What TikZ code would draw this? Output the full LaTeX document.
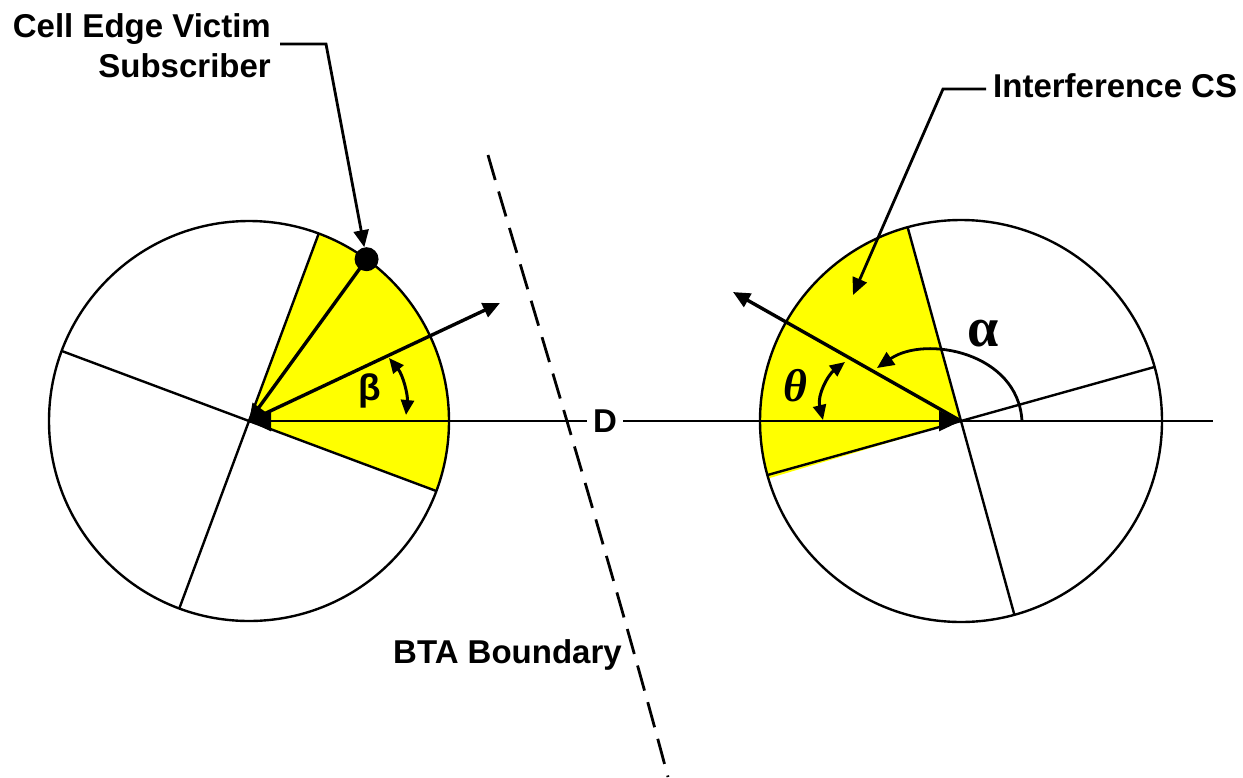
\documentclass[tikz,border=0pt]{standalone}
\usepackage{fontspec}
\setmainfont{Liberation Sans}
\newfontfamily\greekserif{Liberation Serif}
\usetikzlibrary{arrows.meta}
\tikzset{
  cell/.style={line width=2.4pt},
  sectorline/.style={line width=2.4pt},
  sectorfill/.style={fill={rgb,255:red,255;green,255;blue,0}},
  arr/.style={line width=3.4pt, -{Triangle[length=17pt,width=15pt]}},
  darr/.style={line width=3pt, {Triangle[length=15pt,width=13pt]}-{Triangle[length=15pt,width=13pt]}},
  hline/.style={line width=2.8pt},
  dline/.style={line width=2.8pt, {Triangle[length=22pt,width=20pt]}-{Triangle[length=22pt,width=20pt]}},
  leader/.style={line width=2.8pt, -{Triangle[length=17pt,width=15pt]}},
  bta/.style={line width=2.8pt, dash pattern=on 26pt off 12pt},
  lbl/.style={font=\fontsize{33}{40}\selectfont\bfseries, inner sep=0pt},
  subdot/.style={circle, fill=black, minimum size=24pt, inner sep=0pt}
}
\begin{document}
\begin{tikzpicture}[x=1pt,y=-1pt]
\useasboundingbox (0,0) rectangle (1243,777);
% centres
\coordinate (L) at (249,421);
\coordinate (R) at (961,421);
% yellow sectors
\fill[sectorfill] (L) -- ++(20.5:200) arc[start angle=20.5, end angle=-69.6, radius=200] -- cycle;
\fill[sectorfill] (R) -- ++(-105.4:201) arc[start angle=-105.4, end angle=-196.6, radius=201] -- cycle;
% cells
\draw[cell] (L) circle[radius=200];
\draw[cell] (R) circle[radius=201];
% sector boundaries
\draw[sectorline] ([shift={(-69.6:200)}]L) -- ([shift={(110.4:200)}]L);
\draw[sectorline] ([shift={(20.5:200)}]L) -- ([shift={(200.5:200)}]L);
\draw[sectorline] ([shift={(-105.4:201)}]R) -- ([shift={(74.6:201)}]R);
\draw[sectorline] ([shift={(-15.6:201)}]R) -- ([shift={(164.4:201)}]R);
% D line
\draw[dline] (L) -- node[lbl, fill=white, inner xsep=6pt, inner ysep=2pt] (D) {D} (R);
\draw[hline] (R) -- (1213,421);
% boresight arrows
\coordinate (bsL) at (500,303);
\coordinate (bsR) at (733,292);
\draw[arr] (L) -- (bsL);
\draw[arr] (R) -- (bsR);
% subscriber
\node[subdot] (sub) at ([shift={(-54:200)}]L) {};
\draw[arr] (sub.center) -- (L);
% beta, theta, alpha arcs
\draw[darr] (389,358) .. controls (403,375) and (408,395) .. (406,415);
\draw[darr] (845,362) .. controls (828,375) and (817,395) .. (823,420);
\draw[leader] (1022,421) .. controls (1018,352) and (925,335) .. (877,368);
\node[font=\fontsize{37}{37}\selectfont\bfseries, inner sep=0pt] (beta) at (370,391) {β};
\node[font=\greekserif\fontsize{56}{56}\selectfont\bfseries, inner sep=0pt] (alpha) at (983,334) {α};
\node[font=\greekserif\fontsize{46}{46}\selectfont\bfseries\itshape, inner sep=0pt] (theta) at (795,386) {θ};
% labels
\node[lbl, align=right, anchor=north east] (cev) at (271,13) {Cell Edge Victim\\Subscriber};
\draw[leader] (280,44) -- (326,44) -- (sub);
\node[lbl, anchor=base west] (ics) at (993,97) {Interference CS};
\coordinate (icstip) at (853,295);
\draw[leader] (986,89) -- (943,89) -- (icstip);
\node[lbl, anchor=base west] (btal) at (393,663) {BTA Boundary};
% BTA boundary
\coordinate (b1) at (488,155);
\coordinate (b2) at (668,777);
\draw[bta] (b1) .. controls (515,250) and (605,540) .. (b2);
\end{tikzpicture}
\end{document}
